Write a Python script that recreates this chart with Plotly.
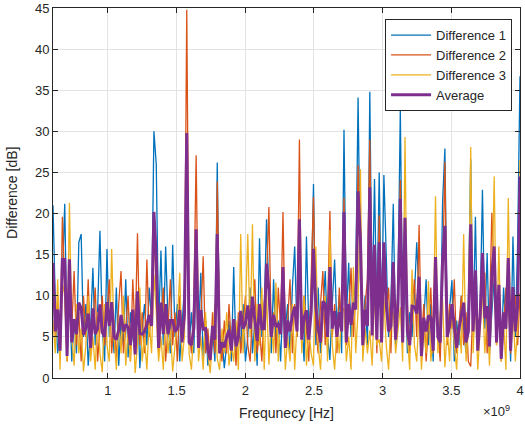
import numpy as np
import plotly.graph_objects as go

# Frequency samples (Hz)
f_start, f_stop, n_pts = 0.6e9, 4.0e9, 200
freq = np.linspace(f_start, f_stop, n_pts)

diff1 = [
    21, 9, 3, 6, 12, 21.2, 4, 11, 2, 7, 3, 16.5, 17.5, 5, 9, 1.5, 6, 13.4, 4, 8,
    17.9, 6, 2, 15.7, 5, 9, 3, 11, 1.5, 7, 4, 12, 2.5, 8, 5, 3, 10, 1.2, 6, 9,
    4, 11, 7, 30, 26, 6, 15.5, 4, 16, 7, 3, 16.2, 5, 9, 2, 6, 11, 22, 4, 8,
    3, 14, 5, 12.8, 2, 7, 1.5, 4, 6, 2, 26.2, 3, 5, 1.2, 4, 7, 2, 13.5, 3, 6,
    4, 9, 2, 5, 11, 3, 7, 1.5, 17, 5, 8, 19.3, 10, 3, 12, 4, 7, 2, 10, 6,
    9, 3, 11, 16, 5, 15, 7, 2, 17.2, 6, 9, 23.6, 4, 11, 3, 8, 13, 5, 2.2, 9,
    14.4, 6, 10, 3, 30.2, 7, 14, 5, 9, 12, 34.1, 12, 6, 10, 4, 34.8, 8, 24.2, 7, 25,
    6, 24.7, 15, 5, 9, 21.2, 4, 11, 32.7, 6, 15, 3, 8, 5, 10, 16.5, 10, 3, 7, 12,
    4, 9, 2, 12, 6, 3, 21.3, 27.9, 5, 8, 11.9, 2, 7, 4, 10, 6, 3, 9, 26.6, 5,
    19.6, 4, 8, 22.9, 6, 15.2, 3, 8, 12, 5, 9, 3, 11, 6, 12, 2, 17.2, 5, 16.4, 36.7,
]

diff2 = [
    14, 5, 10, 3, 19.6, 12, 2, 11, 6, 13, 4, 8, 2, 10, 5, 12, 3, 7, 11, 2,
    6, 10, 4, 8, 12, 3, 7, 2, 9, 13, 3, 6, 10, 2, 12, 5, 17.6, 4, 8, 3,
    14.4, 5, 9, 18, 10, 3, 7, 11, 2, 6, 12, 4, 8, 2, 10, 5, 7, 44.8, 6, 3,
    9, 27.1, 4, 7, 14.8, 3, 6, 2, 8, 3, 23.9, 5, 2, 7, 3, 9, 4, 6, 1.5, 8,
    3, 6, 10, 4, 2, 8, 12, 3, 6, 2, 9, 12, 20.8, 5, 8, 3, 11, 6, 20.2, 4,
    7, 12, 3, 9, 5, 29, 4, 10, 6, 2, 12, 22, 6, 3, 9, 13, 4, 8, 20.3, 5,
    9, 3, 11, 6, 21.9, 4, 8, 13.4, 5, 10, 25.9, 13.6, 4, 9, 12, 29, 6, 14, 3, 19.8,
    5, 15, 8, 11, 3, 13, 7, 10, 24.1, 5, 14.2, 9, 3, 8, 12, 5, 18.6, 4, 9, 2,
    7, 11, 3, 10, 6, 2, 12, 26.3, 4, 9, 6, 12, 3, 7, 10, 4, 8, 2, 1.4, 9,
    10, 5, 8, 12, 12.8, 3, 7, 20.1, 11.5, 4, 9, 2, 6, 11, 9.9, 3, 7, 10, 4, 10.3,
]

diff3 = [
    7, 3, 12, 1, 11.6, 10, 2, 21.3, 5, 1.5, 9, 3, 6, 0.8, 4, 10, 2, 5, 1, 8,
    3, 0.7, 9, 4, 2, 15.7, 5, 1, 7, 3, 10, 1.5, 6, 2, 8, 0.6, 4, 11, 2, 5,
    1, 7, 3, 12.6, 8, 2, 5, 1, 9, 3, 6, 0.8, 4, 7, 12.8, 2, 5, 22.6, 3, 1,
    6, 13.2, 2, 5, 1, 8, 3, 0.6, 5, 9, 2.4, 1, 6, 3, 8, 1.5, 4, 2, 7, 1,
    17.5, 3, 8, 17.5, 5, 18.7, 2, 9, 4, 11, 1, 10.4, 1.6, 7, 3, 11.6, 2, 8, 10.3, 1,
    5, 2, 9, 1, 7, 13.9, 3, 10, 1.5, 6, 3, 1.5, 16, 4, 1, 7, 10, 2, 18, 4,
    1, 6, 3, 8, 8.5, 2, 5, 1, 13.5, 3, 8.1, 25.4, 2, 6, 3, 5.8, 1.5, 10.4, 4, 4.7,
    2, 9.8, 4, 1, 7, 8.1, 3, 6, 8.6, 2, 29.3, 5, 1, 13.2, 4, 2, 8.3, 1, 6, 3,
    11.8, 2, 5, 22.1, 3, 8, 9.6, 1.3, 6, 2, 9, 4, 1, 7, 3, 17.5, 2, 6, 28.1, 3,
    9.7, 1, 6, 10.7, 3, 8, 1.5, 10, 24.5, 4, 16, 2, 7, 1, 21.9, 5, 9, 2, 6, 26.5,
]

average = np.mean(np.array([diff1, diff2, diff3]), axis=0)

x_tick_vals = [1e9, 1.5e9, 2e9, 2.5e9, 3e9, 3.5e9, 4e9]
x_tick_text = ["1", "1.5", "2", "2.5", "3", "3.5", "4"]
y_tick_vals = [0, 5, 10, 15, 20, 25, 30, 35, 40, 45]

series = [
    ("Difference 1", diff1, "#0072BD", 1.3),
    ("Difference 2", diff2, "#D95319", 1.3),
    ("Difference 3", diff3, "#EDB120", 1.3),
    ("Average", average, "#7E2F8E", 3.0),
]

FONT = "Liberation Sans, Arial, sans-serif"

fig = go.Figure()
for name, vals, color, width in series:
    fig.add_trace(go.Scatter(
        x=freq, y=vals, mode="lines", name=name,
        line=dict(color=color, width=width),
    ))

axis_common = dict(
    showline=True, linecolor="#262626", linewidth=1, mirror="ticks",
    ticks="inside", ticklen=5, tickcolor="#262626",
    showgrid=True, gridcolor="#e3e3e3", gridwidth=1, zeroline=False,
    tickfont=dict(family=FONT, size=13, color="#262626"),
)

fig.update_layout(
    width=525, height=432,
    margin=dict(l=53, r=5, t=8, b=54, autoexpand=False),
    paper_bgcolor="white", plot_bgcolor="white",
    showlegend=True,
    legend=dict(
        x=0.983, y=0.97, xanchor="right", yanchor="top",
        bgcolor="white", bordercolor="#262626", borderwidth=1,
        font=dict(family=FONT, size=13, color="#262626"),
        tracegroupgap=0, itemwidth=40,
    ),
    xaxis=dict(range=[f_start, f_stop], tickvals=x_tick_vals, ticktext=x_tick_text, **axis_common),
    yaxis=dict(range=[0, 45], tickvals=y_tick_vals, **axis_common),
    annotations=[
        dict(text="Frequnecy [Hz]", xref="paper", yref="paper", x=0.5, y=-0.095,
             xanchor="center", yanchor="middle", showarrow=False,
             font=dict(family=FONT, size=14, color="#262626")),
        dict(text="Difference [dB]", xref="paper", yref="paper", x=-0.088, y=0.5,
             xanchor="center", yanchor="middle", textangle=-90, showarrow=False,
             font=dict(family=FONT, size=14, color="#262626")),
        dict(text="×10<sup>9</sup>", xref="paper", yref="paper", x=0.983, y=-0.09,
             xanchor="right", yanchor="middle", showarrow=False,
             font=dict(family=FONT, size=13, color="#262626")),
    ],
)

fig.write_html("out.html", config={"displayModeBar": False})

# remove the browser's default page margin so the figure sits at the window origin
with open("out.html", "r", encoding="utf-8") as fh:
    html = fh.read()
html = html.replace("<head>", "<head><style>html,body{margin:0;padding:0;overflow:hidden;}</style>", 1)
with open("out.html", "w", encoding="utf-8") as fh:
    fh.write(html)
